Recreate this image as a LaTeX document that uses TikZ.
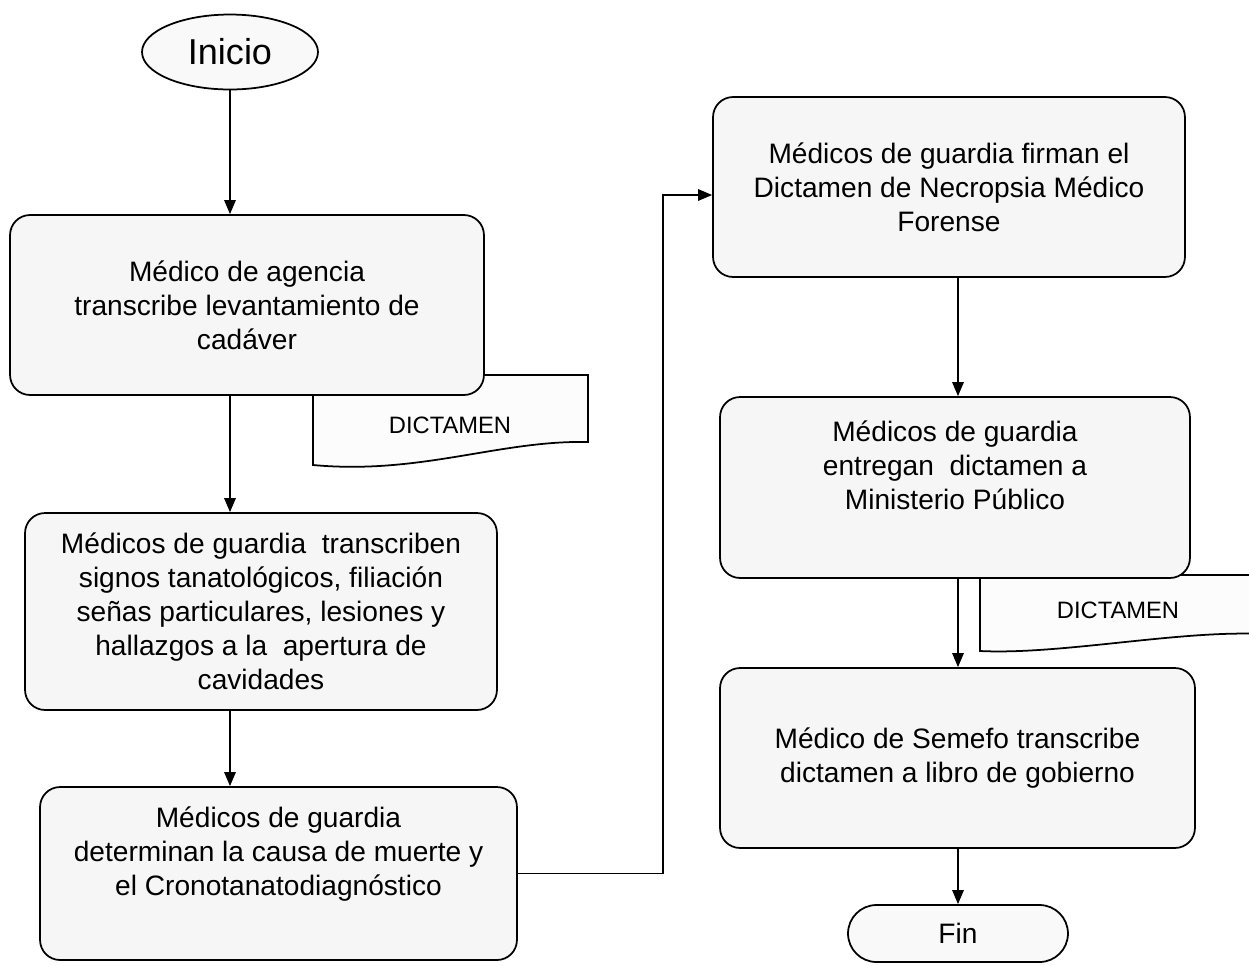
\documentclass[tikz,border=0pt]{standalone}
\usepackage{fontspec}
\setmainfont{Liberation Sans}
\usetikzlibrary{shapes.geometric,arrows.meta}

\begin{document}
\begin{tikzpicture}[x=0.02cm,y=-0.02cm,
    paso/.style={draw,line width=1pt,rounded corners=0.4cm,fill=gray!7,
        align=center,inner sep=0pt,font=\fontsize{16}{19.3}\selectfont},
    extremo/.style={draw,line width=1pt,fill=gray!5,inner sep=0pt},
    docu/.style={draw,line width=1pt,fill=gray!2},
    flecha/.style={line width=1pt,-{Triangle[length=8pt,width=6.5pt]}}]
    \clip (0,0) rectangle (1249,965);

    % Documents (behind the boxes)
    \draw[docu] (313,375) -- (588,375) -- (588,442)
        .. controls (500,440) and (420,475) .. (313,465) -- cycle;
    \draw[docu] (980,575) -- (1262,575) -- (1262,634)
        .. controls (1180,630) and (1060,655) .. (980,651) -- cycle;
    \node[font=\fontsize{13.5}{16}\selectfont] (d1) at (450,425) {DICTAMEN};
    \node[font=\fontsize{13.5}{16}\selectfont] (d2) at (1118,610) {DICTAMEN};

    % Left column
    \node[extremo,ellipse,minimum width=3.52cm,minimum height=1.5cm,
        font=\fontsize{20.5}{24}\selectfont] (inicio) at (230,52) {Inicio};
    \node[paso,minimum width=9.48cm,minimum height=3.6cm] (b1) at (247,305)
        {Médico de agencia\\ transcribe levantamiento de\\ cadáver};
    \node[paso,minimum width=9.44cm,minimum height=3.94cm] (b2) at (261,611.5)
        {Médicos de guardia\ \ transcriben\\ signos tanatológicos, filiación\\
         señas particulares, lesiones y\\ hallazgos a la\ \ apertura de\\ cavidades};
    \node[paso,minimum width=9.54cm,minimum height=3.46cm] (b3) at (278.5,873.5)
        {Médicos de guardia\\ determinan la causa de muerte y\\ el Cronotanatodiagnóstico\\ \strut};

    % Right column
    \node[paso,minimum width=9.44cm,minimum height=3.6cm] (b4) at (949,187)
        {Médicos de guardia firman el\\ Dictamen de Necropsia Médico\\ Forense};
    \node[paso,minimum width=9.4cm,minimum height=3.62cm] (b5) at (955,487.5)
        {Médicos de guardia\\ entregan\ \ dictamen a\\ Ministerio Público\\ \strut};
    \node[paso,minimum width=9.5cm,minimum height=3.6cm] (b6) at (957.5,758)
        {Médico de Semefo transcribe\\ dictamen a libro de gobierno};
    \node[extremo,rounded corners=0.57cm,minimum width=4.4cm,minimum height=1.14cm,
        font=\fontsize{16}{19}\selectfont] (fin) at (958,933.5) {Fin};

    % Arrows
    \draw[flecha] (inicio) -- (inicio |- b1.north);
    \draw[flecha] (b1.south -| inicio) -- (inicio |- b2.north);
    \draw[flecha] (b2.south -| inicio) -- (inicio |- b3.north);
    \draw[flecha] (b3.east) -- ++(145,0) |- ([yshift=-0.16cm]b4.west);
    \draw[flecha] (b4.south -| fin) -- (fin |- b5.north);
    \draw[flecha] (b5.south -| fin) -- (fin |- b6.north);
    \draw[flecha] (b6.south -| fin) -- (fin.north);
\end{tikzpicture}
\end{document}
